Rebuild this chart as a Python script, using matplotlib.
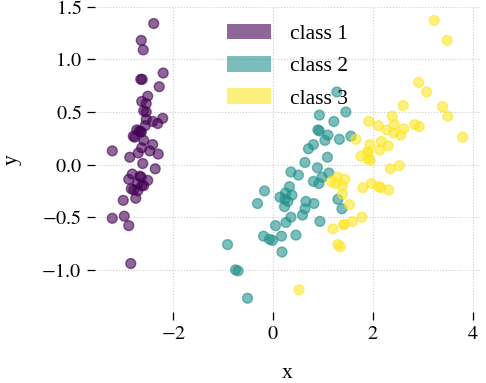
import numpy as np
import matplotlib
matplotlib.use("Agg")
import matplotlib.pyplot as plt
import matplotlib.patches as mpatches

class_names = ["class 1", "class 2", "class 3"]

x_class1 = [-2.68, -2.71, -2.89, -2.75, -2.73, -2.28, -2.82, -2.63, -2.89, -2.67,
            -2.51, -2.61, -2.79, -3.22, -2.64, -2.39, -2.62, -2.65, -2.20, -2.59,
            -2.31, -2.54, -3.22, -2.30, -2.36, -2.51, -2.47, -2.56, -2.64, -2.63,
            -2.59, -2.41, -2.65, -2.60, -2.64, -2.87, -2.63, -2.80, -2.98, -2.59,
            -2.77, -2.85, -3.00, -2.41, -2.21, -2.71, -2.54, -2.84, -2.54, -2.70]
y_class1 = [0.32, -0.18, -0.14, -0.32, 0.33, 0.74, -0.09, 0.16, -0.58, -0.11,
            0.65, 0.01, -0.24, -0.51, 1.18, 1.34, 0.81, 0.31, 0.87, 0.51,
            0.39, 0.43, 0.13, 0.10, -0.04, -0.15, 0.13, 0.37, 0.31, -0.20,
            -0.20, 0.41, 0.81, 1.09, -0.12, 0.07, 0.60, 0.27, -0.49, 0.23,
            0.26, -0.94, -0.34, 0.19, 0.44, -0.25, 0.50, -0.23, 0.58, 0.11]

x_class2 = [1.28, 0.93, 1.46, 0.18, 1.09, 0.64, 1.10, -0.75, 1.04, -0.01,
            -0.51, 0.51, 0.26, 0.98, -0.17, 0.93, 0.66, 0.24, 0.94, 0.05,
            1.12, 0.36, 1.30, 0.92, 0.71, 0.90, 1.33, 1.56, 0.81, -0.31,
            -0.07, -0.19, 0.14, 1.38, 0.59, 0.81, 1.22, 0.82, 0.25, 0.17,
            0.46, 0.89, 0.23, -0.70, 0.36, 0.33, 0.38, 0.64, -0.91, 0.30]
y_class2 = [0.69, 0.32, 0.50, -0.83, 0.07, -0.42, 0.28, -1.00, 0.23, -0.72,
            -1.27, -0.10, -0.55, -0.12, -0.25, 0.47, -0.35, -0.33, -0.54, -0.58,
            -0.08, -0.07, -0.33, -0.18, 0.15, 0.33, 0.24, 0.27, -0.16, -0.37,
            -0.71, -0.68, -0.31, -0.42, -0.48, 0.19, 0.41, -0.37, -0.27, -0.68,
            -0.67, -0.03, -0.40, -1.01, -0.50, -0.21, -0.29, 0.02, -0.76, -0.35]

x_class3 = [2.53, 1.42, 2.62, 1.97, 2.35, 3.40, 0.52, 2.93, 2.32, 2.92,
            1.66, 1.80, 2.17, 1.35, 1.59, 1.90, 1.95, 3.49, 3.80, 1.30,
            2.43, 1.20, 3.50, 1.39, 2.28, 2.61, 1.26, 1.29, 2.12, 2.39,
            2.84, 3.23, 2.16, 1.44, 1.78, 3.08, 2.14, 1.91, 1.17, 2.11,
            2.31, 1.92, 1.42, 2.56, 2.42, 1.94, 1.53, 1.76, 1.90, 1.39]
y_class3 = [-0.01, -0.57, 0.34, -0.18, -0.04, 0.55, -1.19, 0.36, -0.24, 0.78,
            0.24, -0.22, 0.22, -0.78, -0.54, 0.12, 0.04, 1.18, 0.26, -0.76,
            0.38, -0.61, 0.46, -0.20, 0.33, 0.56, -0.18, -0.12, -0.21, 0.46,
            0.38, 1.37, -0.22, -0.14, -0.50, 0.69, 0.14, 0.05, -0.16, 0.37,
            0.18, 0.41, -0.57, 0.28, 0.30, 0.19, -0.38, 0.08, 0.12, -0.28]

x_ticks = [-2, 0, 2, 4]
y_ticks = [-1.0, -0.5, 0.0, 0.5, 1.0, 1.5]
x_ticklabels = ["$-2$", "$0$", "$2$", "$4$"]
y_ticklabels = ["$-1.0$", "$-0.5$", "$0.0$", "$0.5$", "$1.0$", "$1.5$"]

xs = [x_class1, x_class2, x_class3]
ys = [y_class1, y_class2, y_class3]

plt.rcParams['font.family'] = ['Liberation Serif', 'DejaVu Serif']
plt.rcParams['mathtext.fontset'] = 'stix'

fig = plt.figure(figsize=(4.86, 3.83), dpi=100)
ax = fig.add_axes([0.195, 0.185, 0.793, 0.798])

all_x = np.concatenate([np.asarray(v) for v in xs])
all_y = np.concatenate([np.asarray(v) for v in ys])
all_c = np.concatenate([np.full(len(v), i) for i, v in enumerate(xs)])
cmap = plt.get_cmap('viridis')
ax.scatter(all_x, all_y, c=all_c, cmap=cmap, vmin=0, vmax=2, alpha=0.6, s=50,
           linewidths=1.0, zorder=3)

for sp in ax.spines.values():
    sp.set_visible(False)
ax.grid(True, linestyle=':', color='#cccccc', linewidth=0.8, zorder=0)
ax.set_axisbelow(True)
ax.set_xticks(x_ticks)
ax.set_yticks(y_ticks)
ax.set_xticklabels(x_ticklabels)
ax.set_yticklabels(y_ticklabels)
ax.tick_params(axis='both', direction='out', length=5.5, width=0.9, labelsize=14.5,
               pad=4, color='black')
ax.set_xlabel("x", fontsize=15.5, labelpad=14)
ax.set_ylabel("y", fontsize=15.5, labelpad=14)

handles = [mpatches.Patch(facecolor=cmap(i / 2), alpha=0.6, edgecolor='none',
                          label=class_names[i]) for i in range(3)]
leg = ax.legend(handles=handles, loc='upper center', frameon=False, fontsize=15.5,
                handlelength=2.05, handleheight=0.73, handletextpad=0.84,
                labelspacing=0.56, borderaxespad=0.4, bbox_to_anchor=(0.5, 1.0))

fig.savefig("out.png", dpi=100)
